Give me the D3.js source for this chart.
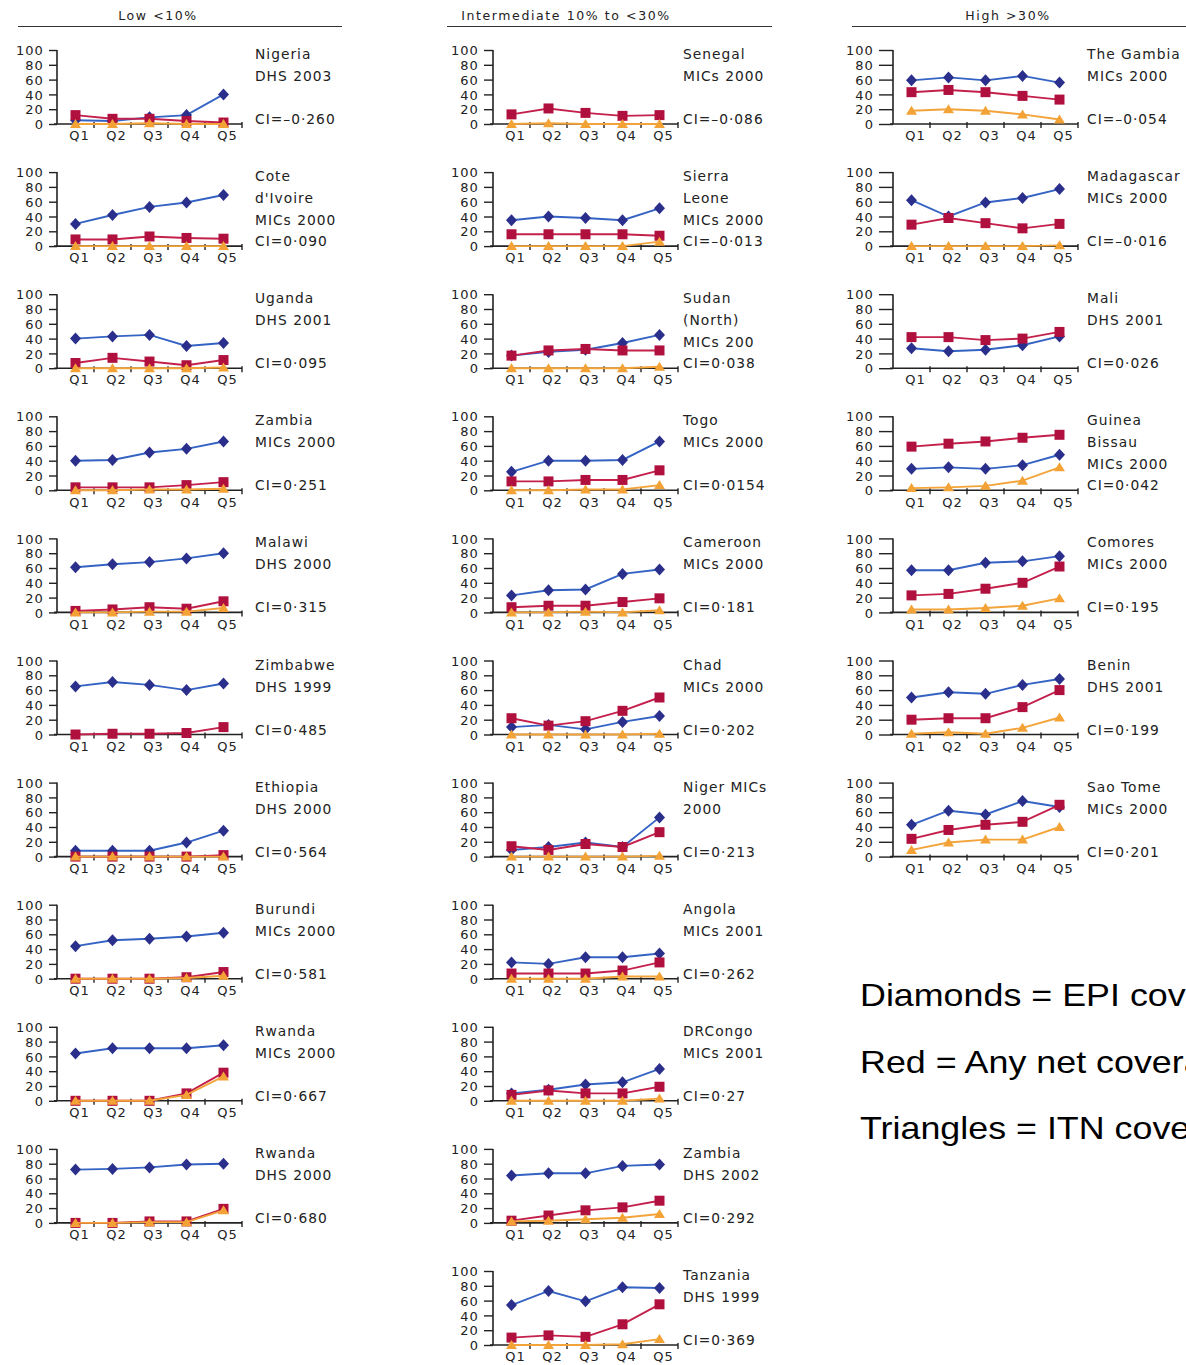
<!DOCTYPE html>
<html>
<head>
<meta charset="utf-8">
<script src="https://cdn.jsdelivr.net/npm/d3@7"></script>
<style>
  body { margin: 0; background: #fff; }
  svg { display: block; }
</style>
</head>
<body>
<svg id="chart" width="1186" height="1365"></svg>
<script>
// Wealth quintiles and axis ticks
const quintiles = ["Q1", "Q2", "Q3", "Q4", "Q5"];
const yTicks = [0, 20, 40, 60, 80, 100];
const groupTitles = ["Low <10%", "Intermediate 10% to <30%", "High >30%"];
const legendLines = ["Diamonds = EPI coverage", "Red = Any net coverage", "Triangles = ITN coverage"];

// Low net coverage (<10%)
const lowLabels = [
  ["Nigeria", "DHS 2003"], ["Cote", "d'Ivoire", "MICs 2000"], ["Uganda", "DHS 2001"],
  ["Zambia", "MICs 2000"], ["Malawi", "DHS 2000"], ["Zimbabwe", "DHS 1999"],
  ["Ethiopia", "DHS 2000"], ["Burundi", "MICs 2000"], ["Rwanda", "MICs 2000"], ["Rwanda", "DHS 2000"]
];
const lowCI = ["CI=–0·260", "CI=0·090", "CI=0·095", "CI=0·251", "CI=0·315", "CI=0·485",
  "CI=0·564", "CI=0·581", "CI=0·667", "CI=0·680"];
const lowEPI = [
  [5, 4, 9, 12, 40], [30, 42, 53, 59, 69], [40, 43, 45, 30, 34], [40, 41, 51, 56, 66],
  [61, 65, 68, 73, 80], [65, 71, 67, 60, 69], [8, 8, 8, 19, 35], [44, 52, 54, 57, 62],
  [64, 71, 71, 71, 75], [72, 73, 75, 79, 80]
];
const lowNet = [
  [12, 7, 7, 4, 2], [9, 9, 13, 11, 10], [7, 14, 9, 4, 11], [4, 4, 4, 7, 11],
  [2, 4, 7, 5, 15], [0, 1, 1, 2, 10], [0, 0, 0, 0, 2], [0, 0, 0, 2, 9],
  [0, 0, 0, 10, 38], [0, 0, 2, 2, 19]
];
const lowITN = [
  [0, 0, 1, 0, 0], [0, 0, 0, 0, 0], [0, 0, 0, 0, 1], [0, 0, 1, 1, 2],
  [0, 0, 1, 1, 6], null, [0, 0, 0, 0, 0], [0, 0, 0, 1, 4],
  [0, 0, 0, 8, 33], [0, 0, 1, 1, 17]
];

// Intermediate net coverage (10% to <30%)
const midLabels = [
  ["Senegal", "MICs 2000"], ["Sierra", "Leone", "MICs 2000"], ["Sudan", "(North)", "MICs 200"],
  ["Togo", "MICs 2000"], ["Cameroon", "MICs 2000"], ["Chad", "MICs 2000"],
  ["Niger MICs", "2000"], ["Angola", "MICs 2001"], ["DRCongo", "MICs 2001"],
  ["Zambia", "DHS 2002"], ["Tanzania", "DHS 1999"]
];
const midCI = ["CI=–0·086", "CI=–0·013", "CI=0·038", "CI=0·0154", "CI=0·181", "CI=0·202",
  "CI=0·213", "CI=0·262", "CI=0·27", "CI=0·292", "CI=0·369"];
const midEPI = [
  null, [35, 40, 38, 35, 51], [17, 22, 25, 34, 45], [25, 40, 40, 41, 66],
  [23, 30, 31, 52, 58], [10, 13, 7, 17, 25], [9, 13, 19, 13, 53], [22, 20, 29, 29, 34],
  [10, 15, 22, 25, 43], [64, 67, 67, 77, 79], [54, 73, 59, 78, 77]
];
const midNet = [
  [13, 21, 15, 11, 12], [16, 16, 16, 16, 14], [17, 24, 26, 24, 24], [12, 12, 14, 14, 27],
  [7, 9, 9, 14, 19], [22, 12, 18, 32, 50], [14, 9, 17, 13, 33], [7, 7, 7, 11, 22],
  [8, 14, 10, 10, 19], [3, 10, 17, 21, 30], [10, 13, 11, 28, 55]
];
const midITN = [
  [0, 1, 0, 0, 0], [0, 0, 0, 0, 6], [0, 0, 0, 0, 2], [0, 0, 1, 1, 7],
  [0, 0, 1, 0, 3], [0, 0, 0, 0, 1], [0, 0, 0, 0, 1], [0, 0, 0, 3, 3],
  [0, 0, 0, 0, 3], [2, 3, 5, 7, 12], [0, 0, 0, 1, 8]
];

// High net coverage (>30%)
const highLabels = [
  ["The Gambia", "MICs 2000"], ["Madagascar", "MICs 2000"], ["Mali", "DHS 2001"],
  ["Guinea", "Bissau", "MICs 2000"], ["Comores", "MICs 2000"], ["Benin", "DHS 2001"],
  ["Sao Tome", "MICs 2000"]
];
const highCI = ["CI=–0·054", "CI=–0·016", "CI=0·026", "CI=0·042", "CI=0·195", "CI=0·199", "CI=0·201"];
const highEPI = [
  [59, 63, 59, 65, 56], [62, 40, 59, 65, 77], [27, 23, 25, 31, 43], [29, 31, 29, 34, 48],
  [57, 57, 67, 69, 76], [50, 57, 55, 67, 75], [43, 62, 57, 75, 67]
];
const highNet = [
  [43, 46, 43, 38, 33], [29, 38, 31, 24, 30], [42, 42, 38, 40, 49], [59, 63, 66, 71, 75],
  [23, 25, 32, 40, 62], [20, 22, 22, 37, 60], [24, 36, 43, 47, 70]
];
const highITN = [
  [18, 20, 18, 13, 6], [0, 0, 0, 0, 1], null, [3, 4, 6, 13, 31],
  [4, 4, 6, 9, 19], [1, 3, 1, 9, 23], [9, 19, 23, 23, 40]
];

const groups = [
  { labels: lowLabels, ci: lowCI, epi: lowEPI, net: lowNet, itn: lowITN },
  { labels: midLabels, ci: midCI, epi: midEPI, net: midNet, itn: midITN },
  { labels: highLabels, ci: highCI, epi: highEPI, net: highNet, itn: highITN }
];

// Layout of the three columns
const layout = [
  { axisX: 57, labelX: 255, titleX: 158, rule: [18, 342], tick: 8 },
  { axisX: 493, labelX: 683, titleX: 566, rule: [447, 772], tick: 9 },
  { axisX: 893, labelX: 1087, titleX: 1008, rule: [852, 1190], tick: 14 }
];
const plotW = 185, plotH = 74, firstZero = 124, rowStep = 122.1;

const series = [
  { key: "epi", line: "#3563c4", fill: "#2b2f8c", shape: "diamond" },
  { key: "net", line: "#c4204c", fill: "#b0103e", shape: "square" },
  { key: "itn", line: "#f2a43a", fill: "#f3a236", shape: "triangle" }
];
const shapes = {
  diamond: "M0,-6L5.5,0L0,6L-5.5,0Z",
  square: "M-5,-5H5V5H-5Z",
  triangle: "M0,-5L5.5,4H-5.5Z"
};

const svg = d3.select("#chart");
const font = '"DejaVu Sans", sans-serif';

groups.forEach((g, gi) => {
  const L = layout[gi];
  // Column heading with rule
  svg.append("text")
    .attr("x", L.titleX).attr("y", 20)
    .attr("text-anchor", "middle")
    .attr("font-family", font).attr("font-size", 12.5).attr("letter-spacing", 1.6)
    .attr("fill", "#222")
    .text(groupTitles[gi]);
  svg.append("line")
    .attr("x1", L.rule[0]).attr("x2", L.rule[1]).attr("y1", 26.5).attr("y2", 26.5)
    .attr("stroke", "#333").attr("stroke-width", 1.2);

  g.labels.forEach((lines, pi) => {
    const zeroY = firstZero + rowStep * pi;
    const x = d3.scaleBand().domain(quintiles).range([L.axisX, L.axisX + plotW]);
    const y = d3.scaleLinear().domain([0, 100]).range([zeroY, zeroY - plotH]);
    const panel = svg.append("g");

    // y axis
    const ya = panel.append("g").attr("transform", `translate(${L.axisX},0)`)
      .call(d3.axisLeft(y).tickValues(yTicks).tickSize(L.tick).tickPadding(5));
    ya.select(".domain").attr("stroke", "#222").attr("stroke-width", 1.6).attr("d", `M0,${y(100)}V${y(0)}`);
    ya.selectAll(".tick line").attr("stroke", "#222").attr("stroke-width", 1.4);
    ya.selectAll(".tick text").attr("font-family", font).attr("font-size", 13)
      .attr("letter-spacing", 1.1).attr("fill", "#222").attr("dy", "0.36em");

    // x axis with ticks on the band edges
    const xa = panel.append("g").attr("transform", `translate(0,${zeroY})`)
      .call(d3.axisBottom(x).tickSize(0).tickPadding(7));
    xa.select(".domain").attr("stroke", "#222").attr("stroke-width", 1.6)
      .attr("d", `M${L.axisX - 3},0H${L.axisX + plotW}`);
    xa.selectAll(".tick text").attr("font-family", font).attr("font-size", 13)
      .attr("letter-spacing", 1).attr("dx", 4).attr("fill", "#222");
    const edges = quintiles.map(q => x(q) + x.bandwidth());
    xa.selectAll("line.edge").data(edges).join("line").attr("class", "edge")
      .attr("x1", d => d).attr("x2", d => d).attr("y1", -2).attr("y2", 4)
      .attr("stroke", "#222").attr("stroke-width", 1.4);

    // Series: EPI, any net, ITN (ITN drawn last, on top)
    const lineGen = d3.line().x((d, i) => x(quintiles[i]) + x.bandwidth() / 2).y(d => y(d));
    series.forEach(s => {
      const vals = g[s.key][pi];
      if (!vals) return;
      panel.append("path").attr("d", lineGen(vals))
        .attr("fill", "none").attr("stroke", s.line).attr("stroke-width", 1.9);
      panel.selectAll(null).data(vals).join("path")
        .attr("d", shapes[s.shape])
        .attr("transform", (d, i) => `translate(${x(quintiles[i]) + x.bandwidth() / 2},${y(d)})`)
        .attr("fill", s.fill);
    });

    // Country / survey label and concentration index
    const top = y(100);
    lines.forEach((t, li) => {
      svg.append("text").attr("x", L.labelX).attr("y", top + 9 + li * 22)
        .attr("font-family", font).attr("font-size", 13.8).attr("letter-spacing", 1)
        .attr("fill", "#222").text(t);
    });
    svg.append("text").attr("x", L.labelX).attr("y", zeroY)
      .attr("font-family", font).attr("font-size", 13.8).attr("letter-spacing", 1)
      .attr("fill", "#222").text(g.ci[pi]);
  });
});

// Key to the marker shapes; the lines run on past the right edge of the figure
svg.selectAll("text.key").data(legendLines).join("text").attr("class", "key")
  .attr("transform", (d, i) => `translate(860,${1006 + i * 66.5}) scale(1.12,1)`)
  .attr("font-family", '"Liberation Sans", Arial, sans-serif').attr("font-size", 32)
  .attr("fill", "#000").text(d => d);
</script>
</body>
</html>
